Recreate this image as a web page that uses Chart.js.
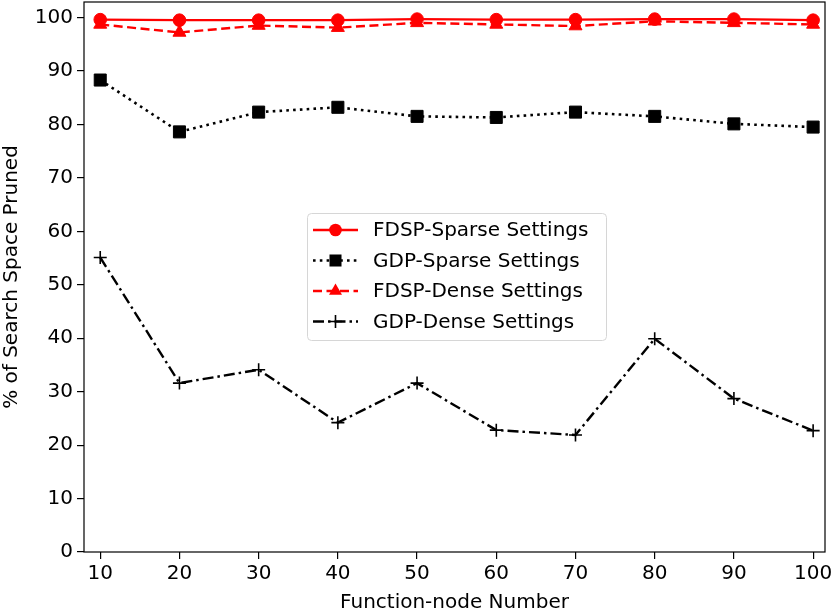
<!DOCTYPE html>
<html>
<head>
<meta charset="utf-8">
<script src="https://cdn.jsdelivr.net/npm/chart.js@4/dist/chart.umd.min.js"></script>
<style>
  html, body { margin: 0; padding: 0; background: #fff; }
  #wrap { width: 834px; height: 613px; }
</style>
</head>
<body>
<div id="wrap"><canvas id="prunedChart" width="834" height="613"></canvas></div>
<script>
const nodeCounts = [10, 20, 30, 40, 50, 60, 70, 80, 90, 100];
const fdspSparse = [99.6, 99.5, 99.5, 99.5, 99.7, 99.6, 99.6, 99.7, 99.7, 99.5];
const gdpSparse = [88.3, 78.6, 82.3, 83.2, 81.5, 81.3, 82.3, 81.5, 80.1, 79.5];
const fdspDense = [98.7, 97.2, 98.5, 98.1, 99.0, 98.7, 98.4, 99.3, 99.0, 98.7];
const gdpDense = [55.1, 31.6, 34.1, 24.2, 31.6, 22.8, 21.9, 39.9, 28.7, 22.7];
const xTicks = [10, 20, 30, 40, 50, 60, 70, 80, 90, 100];
const yTicks = [0, 10, 20, 30, 40, 50, 60, 70, 80, 90, 100];

const FONT = "'DejaVu Sans', sans-serif";
const FONT_SIZE = 20;

function toPoints(values) {
    return nodeCounts.map((n, i) => ({ x: n, y: values[i] }));
}

// pin the plot area to where the reference has it
const fixArea = {
    id: "fixArea",
    afterLayout(chart) {
        const area = { left: 84, right: 825, top: 2, bottom: 552 };
        const { x, y } = chart.scales;
        y.top = area.top;
        y.bottom = area.bottom;
        y.height = area.bottom - area.top;
        y.configure();
        x.left = area.left;
        x.right = area.right;
        x.width = area.right - area.left;
        x.configure();
        Object.assign(chart.chartArea, area, {
            width: area.right - area.left,
            height: area.bottom - area.top
        });
    }
};

// frame around the plot area (matplotlib spines)
const framePlugin = {
    id: "frame",
    afterDatasetsDraw(chart) {
        const a = chart.chartArea;
        const ctx = chart.ctx;
        ctx.save();
        ctx.strokeStyle = "#000";
        ctx.lineWidth = 1.2;
        ctx.strokeRect(a.left, a.top, a.right - a.left, a.bottom - a.top);
        ctx.restore();
    }
};

// legend drawn inside the plot, like matplotlib's "best" location
const innerLegend = {
    id: "innerLegend",
    afterDraw(chart) {
        const ctx = chart.ctx;
        const boxX = 307, boxY = 213, boxW = 299, boxH = 127;
        ctx.save();
        ctx.fillStyle = "rgba(255,255,255,0.85)";
        ctx.strokeStyle = "#d6d6d6";
        ctx.lineWidth = 1;
        ctx.beginPath();
        ctx.roundRect(boxX + 0.5, boxY + 0.5, boxW, boxH, 4);
        ctx.fill();
        ctx.stroke();

        chart.data.datasets.forEach((ds, i) => {
            const y = boxY + 17 + i * 30.5;
            const x0 = boxX + 6, x1 = boxX + 51, xm = (x0 + x1) / 2;
            ctx.strokeStyle = ds.borderColor;
            ctx.lineWidth = ds.borderWidth;
            ctx.setLineDash(ds.borderDash || []);
            ctx.beginPath();
            ctx.moveTo(x0, y);
            ctx.lineTo(x1, y);
            ctx.stroke();
            ctx.setLineDash([]);

            const r = ds.pointRadius;
            ctx.fillStyle = ds.pointBackgroundColor;
            ctx.strokeStyle = ds.pointBorderColor;
            ctx.lineWidth = ds.pointBorderWidth;
            ctx.beginPath();
            if (ds.pointStyle === "circle") {
                ctx.arc(xm, y, r, 0, Math.PI * 2);
                ctx.fill();
            } else if (ds.pointStyle === "rect") {
                const s = r * Math.SQRT1_2;
                ctx.rect(xm - s, y - s, 2 * s, 2 * s);
                ctx.fill();
            } else if (ds.pointStyle === "triangle") {
                ctx.moveTo(xm, y - r);
                ctx.lineTo(xm + r * 0.866, y + r * 0.5);
                ctx.lineTo(xm - r * 0.866, y + r * 0.5);
                ctx.closePath();
                ctx.fill();
            } else {
                ctx.moveTo(xm - r, y);
                ctx.lineTo(xm + r, y);
                ctx.moveTo(xm, y - r);
                ctx.lineTo(xm, y + r);
                ctx.stroke();
            }

            ctx.fillStyle = "#000";
            ctx.font = FONT_SIZE + "px " + FONT;
            ctx.textBaseline = "middle";
            ctx.fillText(ds.label, boxX + 66, y + 1);
        });
        ctx.restore();
    }
};

const ctx = document.getElementById("prunedChart").getContext("2d");
new Chart(ctx, {
    type: "line",
    data: {
        datasets: [
            {
                label: "FDSP-Sparse Settings",
                data: toPoints(fdspSparse),
                borderColor: "#ff0000",
                borderWidth: 2.4,
                pointStyle: "circle",
                pointRadius: 6.3,
                pointBackgroundColor: "#ff0000",
                pointBorderColor: "#ff0000",
                pointBorderWidth: 1
            },
            {
                label: "GDP-Sparse Settings",
                data: toPoints(gdpSparse),
                borderColor: "#000000",
                borderWidth: 2.6,
                borderDash: [2.6, 4.2],
                pointStyle: "rect",
                pointRadius: 8.5,
                pointBackgroundColor: "#000000",
                pointBorderColor: "#000000",
                pointBorderWidth: 1
            },
            {
                label: "FDSP-Dense Settings",
                data: toPoints(fdspDense),
                borderColor: "#ff0000",
                borderWidth: 2.4,
                borderDash: [9, 4.5],
                pointStyle: "triangle",
                pointRadius: 7.5,
                pointBackgroundColor: "#ff0000",
                pointBorderColor: "#ff0000",
                pointBorderWidth: 1
            },
            {
                label: "GDP-Dense Settings",
                data: toPoints(gdpDense),
                borderColor: "#000000",
                borderWidth: 2.4,
                borderDash: [11, 4, 2.5, 4],
                pointStyle: "cross",
                pointRadius: 6.5,
                pointBackgroundColor: "#000000",
                pointBorderColor: "#000000",
                pointBorderWidth: 1.6
            }
        ]
    },
    options: {
        responsive: false,
        animation: false,
        events: [],
        layout: { padding: { top: 2, right: 9, left: 0, bottom: 0 } },
        plugins: {
            legend: { display: false },
            tooltip: { enabled: false }
        },
        scales: {
            x: {
                type: "linear",
                min: 7.95,
                max: 101.5,
                afterBuildTicks: scale => { scale.ticks = xTicks.map(v => ({ value: v })); },
                afterFit: scale => { scale.height = 61; },
                border: { display: false },
                grid: { drawOnChartArea: false, drawTicks: true, tickLength: 7, color: "#000", lineWidth: 1.2 },
                ticks: { color: "#000", font: { family: FONT, size: FONT_SIZE }, padding: 3, maxRotation: 0 },
                title: {
                    display: true,
                    text: "Function-node Number",
                    color: "#000",
                    font: { family: FONT, size: FONT_SIZE },
                    padding: { top: 0, bottom: -2 }
                }
            },
            y: {
                type: "linear",
                min: 0,
                max: 102.9,
                afterBuildTicks: scale => { scale.ticks = yTicks.map(v => ({ value: v })); },
                afterFit: scale => { scale.width = 84; },
                border: { display: false },
                grid: { drawOnChartArea: false, drawTicks: true, tickLength: 7, color: "#000", lineWidth: 1.2 },
                ticks: { color: "#000", font: { family: FONT, size: FONT_SIZE }, padding: 4 },
                title: {
                    display: true,
                    text: "% of Search Space Pruned",
                    color: "#000",
                    font: { family: FONT, size: FONT_SIZE },
                    padding: { top: 0, bottom: 0 }
                }
            }
        }
    },
    plugins: [fixArea, framePlugin, innerLegend]
});
</script>
</body>
</html>
